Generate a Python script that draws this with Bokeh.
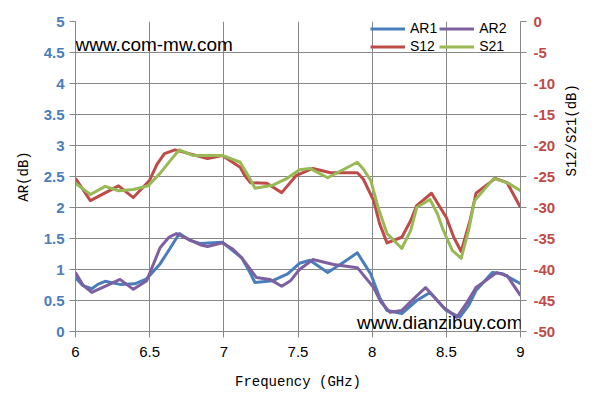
from bokeh.plotting import figure
from bokeh.models import (Range1d, LinearAxis, FixedTicker, Legend, LegendItem,
                          Label, NumeralTickFormatter)
from bokeh.embed import file_html
from bokeh.resources import INLINE
import math

# ---- data ----
ar1_f = [6.00, 6.05, 6.11, 6.15, 6.20, 6.30, 6.40, 6.48, 6.57, 6.64, 6.70, 6.77,
         6.84, 6.99, 7.12, 7.17, 7.21, 7.33, 7.43, 7.51, 7.58, 7.70, 7.81, 7.90,
         7.99, 8.05, 8.10, 8.20, 8.30, 8.39, 8.50, 8.59, 8.65, 8.70, 8.81, 8.88,
         9.00]
ar1 = [0.87, 0.74, 0.69, 0.76, 0.81, 0.76, 0.77, 0.85, 1.09, 1.35, 1.58, 1.47,
       1.42, 1.44, 1.19, 0.98, 0.79, 0.82, 0.93, 1.10, 1.15, 0.95, 1.12, 1.27,
       0.93, 0.55, 0.34, 0.29, 0.50, 0.63, 0.34, 0.23, 0.42, 0.66, 0.95, 0.93,
       0.77]

ar2_f = [6.00, 6.05, 6.11, 6.21, 6.30, 6.39, 6.48, 6.57, 6.63, 6.68, 6.84, 6.89,
         6.99, 7.06, 7.12, 7.22, 7.31, 7.39, 7.45, 7.51, 7.60, 7.74, 7.90, 8.01,
         8.06, 8.12, 8.20, 8.29, 8.36, 8.48, 8.57, 8.64, 8.70, 8.84, 8.91, 9.00]
ar2 = [0.95, 0.75, 0.63, 0.74, 0.84, 0.68, 0.82, 1.35, 1.52, 1.58, 1.40, 1.37,
       1.43, 1.33, 1.19, 0.87, 0.84, 0.73, 0.82, 1.00, 1.16, 1.08, 1.03, 0.71,
       0.47, 0.31, 0.34, 0.55, 0.71, 0.39, 0.23, 0.47, 0.71, 0.95, 0.90, 0.58]

s12_f = [6.00, 6.10, 6.29, 6.39, 6.50, 6.55, 6.60, 6.67, 6.89, 6.99, 7.11, 7.14,
         7.18, 7.29, 7.39, 7.49, 7.60, 7.72, 7.90, 7.94, 8.01, 8.05, 8.10, 8.20,
         8.26, 8.30, 8.40, 8.50, 8.55, 8.60, 8.66, 8.70, 8.83, 8.91, 9.00]
s12 = [-25.3, -28.9, -26.5, -28.4, -25.6, -23.0, -21.3, -20.7, -22.1, -21.6,
       -23.5, -24.8, -26.0, -26.1, -27.6, -24.8, -23.7, -24.4, -24.4, -25.4,
       -28.9, -32.6, -35.7, -34.8, -32.1, -29.7, -27.7, -31.6, -34.8, -37.1,
       -32.1, -27.7, -25.3, -26.0, -30.0]

s21_f = [6.00, 6.10, 6.20, 6.29, 6.39, 6.49, 6.57, 6.64, 6.70, 6.79, 6.99, 7.11,
         7.17, 7.21, 7.33, 7.42, 7.51, 7.58, 7.70, 7.90, 7.94, 7.99, 8.04, 8.10,
         8.20, 8.26, 8.30, 8.39, 8.44, 8.48, 8.54, 8.60, 8.65, 8.69, 8.82, 8.92,
         9.00]
s21 = [-26.1, -27.9, -26.6, -27.3, -27.1, -26.5, -24.5, -22.4, -20.7, -21.6,
       -21.6, -22.7, -25.1, -26.9, -26.4, -25.4, -23.9, -23.7, -25.2, -22.7,
       -23.8, -25.6, -30.0, -34.2, -36.6, -33.7, -30.0, -28.7, -31.0, -33.7,
       -36.9, -38.2, -33.7, -28.9, -25.3, -26.1, -27.3]

x_ticks = [6, 6.5, 7, 7.5, 8, 8.5, 9]
ar_ticks = [0, 0.5, 1, 1.5, 2, 2.5, 3, 3.5, 4, 4.5, 5]
db_ticks = [-50, -45, -40, -35, -30, -25, -20, -15, -10, -5, 0]

series_names = ["AR1", "AR2", "S12", "S21"]
colors = ["#4A7EBB", "#7D60A0", "#BE4B48", "#98B954"]

GRID = "#878787"
TICK_FONT = "Liberation Sans"
TITLE_FONT = "Liberation Mono"

p = figure(frame_width=445, frame_height=310, output_backend="svg",
           toolbar_location=None, x_range=Range1d(6, 9), y_range=Range1d(0, 5),
           min_border_left=75, min_border_right=67, min_border_top=21,
           min_border_bottom=76)
p.extra_y_ranges = {"db": Range1d(-50, 0)}
p.outline_line_color = None
p.background_fill_color = "white"
p.border_fill_color = "white"

# grids
p.xgrid.ticker = FixedTicker(ticks=x_ticks)
p.ygrid.ticker = FixedTicker(ticks=ar_ticks)
p.xgrid.grid_line_color = GRID
p.ygrid.grid_line_color = GRID
p.xgrid.grid_line_width = 1
p.ygrid.grid_line_width = 1

# x axis
xa = p.xaxis[0]
xa.ticker = FixedTicker(ticks=x_ticks)
xa.formatter = NumeralTickFormatter(format="0.[0]")
xa.axis_label = "Frequency (GHz)"

# left axis
ya = p.yaxis[0]
ya.ticker = FixedTicker(ticks=ar_ticks)
ya.formatter = NumeralTickFormatter(format="0.[0]")
ya.axis_label = "AR(dB)"

# right axis
ra = LinearAxis(y_range_name="db", ticker=FixedTicker(ticks=db_ticks),
                formatter=NumeralTickFormatter(format="0"),
                axis_label="S12/S21(dB)")
p.add_layout(ra, "right")

for ax in (xa, ya, ra):
    ax.axis_line_color = GRID
    ax.major_tick_line_color = GRID
    ax.major_tick_out = 6
    ax.major_tick_in = 0
    ax.minor_tick_line_color = None
    ax.major_label_text_font = TICK_FONT
    ax.major_label_text_font_size = "15px"
    ax.axis_label_text_font = TITLE_FONT
    ax.axis_label_text_font_size = "14px"
    ax.axis_label_text_font_style = "normal"
    ax.axis_label_text_color = "black"

xa.major_label_text_color = "black"
xa.major_label_standoff = 9
xa.axis_label_standoff = 14
ya.major_label_text_color = "#4A7EBB"
ya.major_label_text_font_style = "bold"
ya.major_label_standoff = 5
ya.axis_label_standoff = 9
ra.major_label_text_color = "#BE4B48"
ra.major_label_text_font_style = "bold"
ra.major_label_standoff = 7
ra.axis_label_standoff = 14
if "axis_label_orientation" in ra.properties():
    ra.axis_label_orientation = math.pi / 2

# lines (series order: AR1, AR2 on left axis; S12, S21 on right axis)
r_ar1 = p.line(ar1_f, ar1, line_color=colors[0], line_width=3, line_join="round")
r_ar2 = p.line(ar2_f, ar2, line_color=colors[1], line_width=3, line_join="round")
r_s12 = p.line(s12_f, s12, line_color=colors[2], line_width=3, line_join="round",
               y_range_name="db")
r_s21 = p.line(s21_f, s21, line_color=colors[3], line_width=3, line_join="round",
               y_range_name="db")

items = [LegendItem(label=series_names[0], renderers=[r_ar1]),
         LegendItem(label=series_names[1], renderers=[r_ar2]),
         LegendItem(label=series_names[2], renderers=[r_s12]),
         LegendItem(label=series_names[3], renderers=[r_s21])]
leg = Legend(items=items, location=(295, 277), orientation="horizontal", nrows=2,
             background_fill_alpha=0, border_line_color=None, padding=0, margin=0,
             spacing=2, glyph_width=35, glyph_height=15, label_height=15,
             label_standoff=5, label_text_font=TICK_FONT,
             label_text_font_size="14px", label_text_color="black")
p.add_layout(leg, "center")

# watermarks
p.add_layout(Label(x=6.0, y=4.63, text="www.com-mw.com", text_font=TICK_FONT,
                   text_font_size="19px", text_color="black",
                   text_baseline="alphabetic"))
p.add_layout(Label(x=7.898, y=0.145, text="www.dianzibuy.com", text_font=TICK_FONT,
                   text_font_size="19px", text_color="black",
                   text_baseline="alphabetic"))

open("out.html", "w").write(file_html(p, INLINE))
